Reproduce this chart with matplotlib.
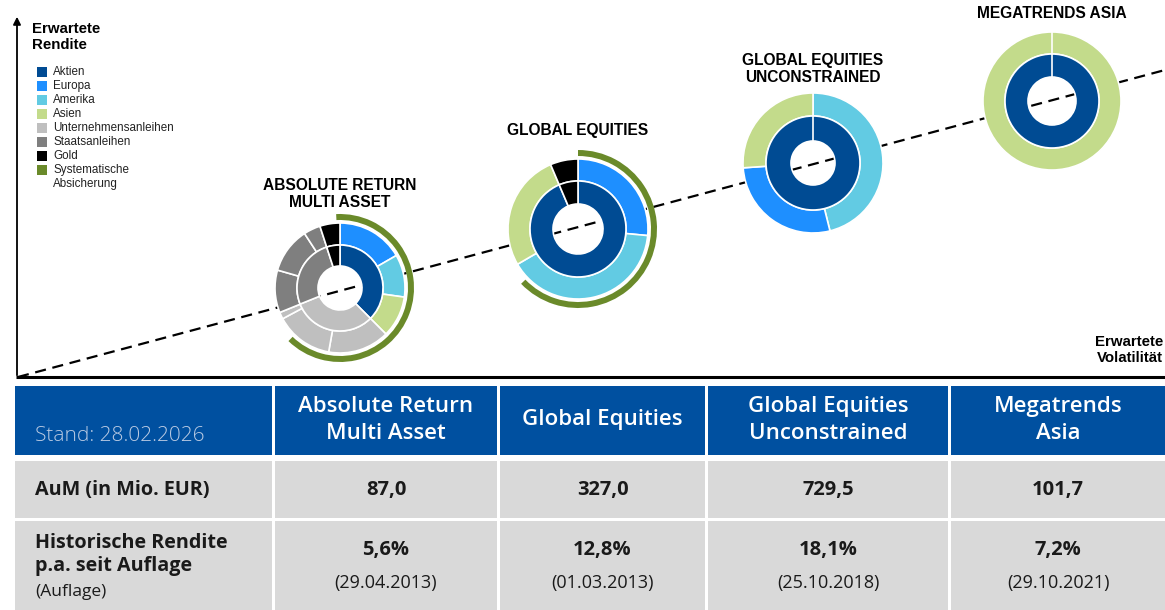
import matplotlib.pyplot as plt

W, H = 1165, 610

# colours
c_aktien = "#004B93"
c_europa = "#1E8FFF"
c_amerika = "#62CBE3"
c_asien = "#C3DB8B"
c_unt = "#BFBFBF"
c_staat = "#7F7F7F"
c_gold = "#000000"
c_hedge = "#6A8A2A"
c_head = "#0050A0"
c_cell = "#D9D9D9"

legend_labels = ["Aktien", "Europa", "Amerika", "Asien", "Unternehmensanleihen",
                 "Staatsanleihen", "Gold", "Systematische\nAbsicherung"]
legend_colors = [c_aktien, c_europa, c_amerika, c_asien, c_unt, c_staat, c_gold, c_hedge]

# allocations in %, clockwise from 12 o'clock
arma_inner = [37.5, 31.4, 26.1, 5.0]
arma_inner_c = [c_aktien, c_unt, c_staat, c_gold]
arma_outer = [16.7, 10.6, 10.3, 15.3, 14.4, 1.7, 10.6, 11.4, 4.2, 5.0]
arma_outer_c = [c_europa, c_amerika, c_asien, c_unt, c_unt, c_unt,
                c_staat, c_staat, c_staat, c_gold]
arma_hedge = 63.1

ge_inner = [93.6, 6.4]
ge_inner_c = [c_aktien, c_gold]
ge_outer = [26.5, 40.1, 27.0, 6.4]
ge_outer_c = [c_europa, c_amerika, c_asien, c_gold]
ge_hedge = 62.8

geu_inner = [100]
geu_inner_c = [c_aktien]
geu_outer = [46.1, 27.8, 26.1]
geu_outer_c = [c_amerika, c_europa, c_asien]

ma_inner = [100]
ma_inner_c = [c_aktien]
ma_outer = [100]
ma_outer_c = [c_asien]

# table
fund_names = ["Absolute Return\nMulti Asset", "Global Equities",
              "Global Equities\nUnconstrained", "Megatrends\nAsia"]
aum = ["87,0", "327,0", "729,5", "101,7"]
hist_ret = ["5,6%", "12,8%", "18,1%", "7,2%"]
launch = ["(29.04.2013)", "(01.03.2013)", "(25.10.2018)", "(29.10.2021)"]


def Y(y):
    return H - y


fig = plt.figure(figsize=(W / 100, H / 100), dpi=100)
ax = fig.add_axes([0, 0, 1, 1])

# axes of the risk/return chart
ax.plot([16, W], [Y(377), Y(377)], color="black", lw=2.2, solid_capstyle="butt")
ax.annotate("", xy=(17, Y(14)), xytext=(17, Y(378)),
            arrowprops=dict(arrowstyle="-|>", color="black", lw=1.3, mutation_scale=11))
ax.plot([18, W], [Y(377), Y(70)], color="black", lw=1.6, dashes=(5, 3), zorder=1)

ax.text(32, Y(37), "Erwartete\nRendite", ha="left", va="center", fontsize=10.8,
        fontweight="bold", family="Liberation Sans", linespacing=1.25)
ax.text(1163, Y(350), "Erwartete\nVolatilität", ha="right", va="center", fontsize=10.8,
        fontweight="bold", family="Liberation Sans", linespacing=1.1)

# legend
for i, (lab, col) in enumerate(zip(legend_labels, legend_colors)):
    yy = 72 + 14 * i
    ax.scatter([42], [Y(yy)], marker="s", s=45, color=col, linewidths=0)
    ax.text(53, Y(yy + 7 * lab.count("\n")), lab, ha="left", va="center", fontsize=8.4,
            family="Liberation Sans", color="#222222", linespacing=1.15)


def ring(vals, cols, cx, cy, r, w, start=90):
    ax.pie(vals, colors=cols, radius=r, center=(cx, Y(cy)), startangle=start,
           counterclock=False, frame=True,
           wedgeprops=dict(width=w, edgecolor="white", linewidth=1.2))
    if len(vals) == 1:
        ax.plot([cx, cx], [Y(cy) + r - w, Y(cy) + r], color="white", lw=1.2, zorder=3)


def hedge_arc(share, cx, cy, r, start):
    ax.pie([share, 100 - share], colors=[c_hedge, "none"], radius=r, center=(cx, Y(cy)),
           startangle=start, counterclock=False, frame=True,
           wedgeprops=dict(width=6, linewidth=0))


def title(txt, cx, cy):
    ax.text(cx, Y(cy), txt, ha="center", va="center", fontsize=11.2, fontweight="bold",
            family="Liberation Sans", linespacing=1.2)


# Absolute Return Multi Asset
ring(arma_outer, arma_outer_c, 340, 288, 65, 22)
ring(arma_inner, arma_inner_c, 340, 288, 43, 21)
hedge_arc(arma_hedge, 340, 288, 74, 93)
title("ABSOLUTE RETURN\nMULTI ASSET", 340, 194)

# Global Equities
ring(ge_outer, ge_outer_c, 578, 229, 70, 22)
ring(ge_inner, ge_inner_c, 578, 229, 48, 23)
hedge_arc(ge_hedge, 578, 229, 79, 90)
title("GLOBAL EQUITIES", 578, 131)

# Global Equities Unconstrained
ring(geu_outer, geu_outer_c, 813, 163, 70, 23)
ring(geu_inner, geu_inner_c, 813, 163, 47, 25)
title("GLOBAL EQUITIES\nUNCONSTRAINED", 813, 69)

# Megatrends Asia
ring(ma_outer, ma_outer_c, 1052, 101, 69, 22)
ring(ma_inner, ma_inner_c, 1052, 101, 47, 23)
title("MEGATRENDS ASIA", 1052, 14)

# table
col_l = [15, 275, 500, 708, 951]
col_r = [272, 497, 705, 948, 1180]
rows = [(386, 455), (461, 518), (521, 620)]
tfont = "Open Sans"
txt_c = "#1A1A1A"
for j in range(5):
    for k, (y0, y1) in enumerate(rows):
        ax.add_patch(plt.Rectangle((col_l[j], Y(y1)), col_r[j] - col_l[j], y1 - y0,
                                   facecolor=c_head if k == 0 else c_cell, lw=0))

ax.text(35, Y(436), "Stand: 28.02.2026", ha="left", va="center", fontsize=15,
        fontweight="light", color="#B9CAE3", family=tfont)
ax.text(35, Y(490), "AuM (in Mio. EUR)", ha="left", va="center", fontsize=14.2,
        fontweight="bold", color=txt_c, family=tfont)
ax.text(35, Y(555), "Historische Rendite\np.a. seit Auflage", ha="left", va="center",
        fontsize=14.2, fontweight="bold", color=txt_c, family=tfont, linespacing=1.2)
ax.text(35, Y(592), "(Auflage)", ha="left", va="center", fontsize=12.5,
        color=txt_c, family=tfont)

for j in range(4):
    cx = (col_l[j + 1] + min(col_r[j + 1], W)) / 2
    ax.text(cx, Y(420), fund_names[j], ha="center", va="center", fontsize=16,
            fontweight="semibold", color="white", family=tfont, linespacing=1.35)
    ax.text(cx, Y(490), aum[j], ha="center", va="center", fontsize=14.5,
            fontweight="bold", color=txt_c, family=tfont)
    ax.text(cx, Y(550), hist_ret[j], ha="center", va="center", fontsize=14.5,
            fontweight="bold", color=txt_c, family=tfont)
    ax.text(cx, Y(583), launch[j], ha="center", va="center", fontsize=13,
            color=txt_c, family=tfont)

ax.set_xlim(0, W)
ax.set_ylim(0, H)
ax.set_aspect("equal")
ax.axis("off")
fig.savefig("out.png", dpi=100)
